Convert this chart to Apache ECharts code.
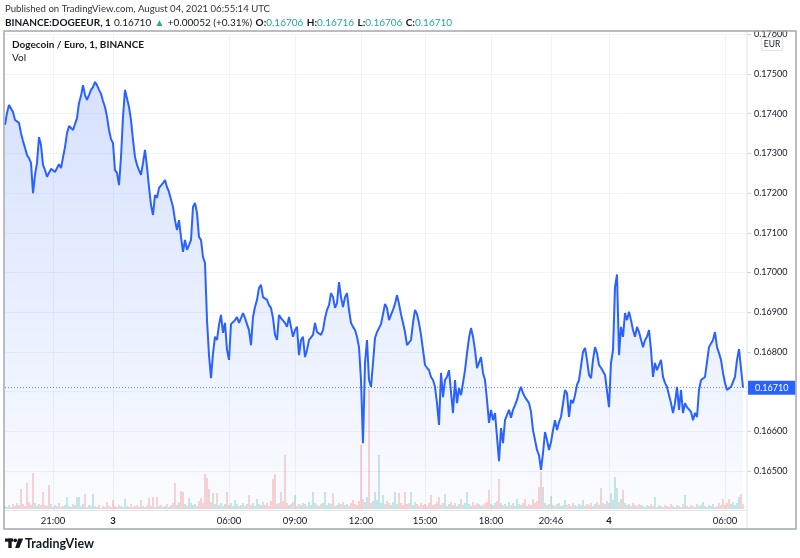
<!DOCTYPE html>
<html><head><meta charset="utf-8">
<script src="https://cdn.jsdelivr.net/npm/echarts@6/dist/echarts.min.js"></script>
<style>html,body{margin:0;padding:0;background:#fff;}#c{width:800px;height:558px;}</style>
</head><body><div id="c"></div>
<script>
// DOGE/EUR 1-minute closes (sampled), Binance, Aug 2-4 2021
const prices = [
0.17372,0.17402,0.17422,0.17417,0.17404,0.17384,0.17387,0.17377,0.17351,0.17331,
0.17314,0.17296,0.17288,0.17276,0.17200,0.17246,0.17276,0.17341,0.17321,0.17271,
0.17258,0.17241,0.17238,0.17261,0.17266,0.17253,0.17258,0.17273,0.17263,0.17258,
0.17316,0.17351,0.17369,0.17372,0.17359,0.17374,0.17389,0.17427,0.17445,0.17472,
0.17447,0.17435,0.17447,0.17460,0.17467,0.17480,0.17472,0.17460,0.17450,0.17432,
0.17417,0.17392,0.17359,0.17336,0.17326,0.17258,0.17251,0.17220,0.17291,0.17392,
0.17460,0.17465,0.17417,0.17384,0.17334,0.17291,0.17271,0.17258,0.17246,0.17276,
0.17309,0.17266,0.17215,0.17170,0.17145,0.17195,0.17188,0.17213,0.17210,0.17225,
0.17233,0.17215,0.17203,0.17203,0.17165,0.17132,0.17107,0.17132,0.17089,0.17052,
0.17082,0.17057,0.17069,0.17082,0.17165,0.17175,0.17150,0.17089,0.17082,0.17039,
0.17024,0.16880,0.16792,0.16734,0.16797,0.16838,0.16830,0.16868,0.16893,0.16848,
0.16873,0.16805,0.16780,0.16870,0.16873,0.16880,0.16888,0.16873,0.16885,0.16898,
0.16885,0.16888,0.16855,0.16817,0.16888,0.16913,0.16931,0.16961,0.16969,0.16938,
0.16933,0.16931,0.16918,0.16911,0.16885,0.16843,0.16830,0.16893,0.16885,0.16880,
0.16873,0.16863,0.16888,0.16863,0.16838,0.16855,0.16863,0.16792,0.16830,0.16838,
0.16787,0.16805,0.16830,0.16835,0.16843,0.16873,0.16850,0.16855,0.16843,0.16855,
0.16885,0.16906,0.16918,0.16948,0.16938,0.16911,0.16923,0.16976,0.16938,0.16913,
0.16938,0.16948,0.16906,0.16873,0.16863,0.16855,0.16838,0.16812,0.16729,0.16570,
0.16772,0.16830,0.16729,0.16712,0.16772,0.16835,0.16850,0.16860,0.16870,0.16895,
0.16921,0.16911,0.16880,0.16893,0.16906,0.16921,0.16943,0.16921,0.16895,0.16873,
0.16850,0.16817,0.16812,0.16830,0.16873,0.16906,0.16895,0.16873,0.16843,0.16805,
0.16767,0.16760,0.16754,0.16737,0.16729,0.16712,0.16671,0.16616,0.16747,0.16686,
0.16729,0.16737,0.16754,0.16699,0.16646,0.16729,0.16671,0.16709,0.16691,0.16722,
0.16754,0.16797,0.16835,0.16860,0.16838,0.16805,0.16759,0.16762,0.16787,0.16747,
0.16729,0.16679,0.16621,0.16654,0.16628,0.16646,0.16586,0.16525,0.16608,0.16570,
0.16628,0.16628,0.16654,0.16634,0.16654,0.16666,0.16679,0.16699,0.16712,0.16696,
0.16686,0.16686,0.16671,0.16649,0.16603,0.16578,0.16553,0.16540,0.16503,0.16545,
0.16598,0.16578,0.16553,0.16573,0.16603,0.16628,0.16603,0.16623,0.16636,0.16636,
0.16704,0.16696,0.16636,0.16679,0.16671,0.16691,0.16717,0.16729,0.16729,0.16800,
0.16810,0.16780,0.16742,0.16734,0.16780,0.16812,0.16797,0.16767,0.16760,0.16765,
0.16742,0.16747,0.16661,0.16772,0.16805,0.16963,0.16995,0.16792,0.16863,0.16838,
0.16898,0.16880,0.16901,0.16880,0.16855,0.16838,0.16863,0.16850,0.16855,0.16812,
0.16830,0.16838,0.16855,0.16805,0.16737,0.16772,0.16754,0.16767,0.16780,0.16737,
0.16722,0.16712,0.16691,0.16671,0.16646,0.16671,0.16712,0.16654,0.16704,0.16646,
0.16671,0.16661,0.16666,0.16649,0.16628,0.16646,0.16636,0.16704,0.16729,0.16734,
0.16737,0.16737,0.16812,0.16812,0.16830,0.16850,0.16812,0.16797,0.16780,0.16747,
0.16722,0.16704,0.16699,0.16712,0.16712,0.16737,0.16780,0.16807,0.16805,0.16710
];
// Volume per sampled bar (thousand DOGE)
const volumes = [
3,2,4,2,5,3,6,4,20,5,
3,26,7,4,36,6,3,5,4,17,
4,3,24,5,2,4,3,6,2,3,
4,12,3,2,5,4,12,12,3,5,
15,2,4,3,15,3,2,4,1,3,
2,7,3,2,9,3,2,4,3,2,
10,3,2,5,2,3,4,2,9,3,
2,4,11,3,12,2,12,3,4,2,
3,5,2,4,6,26,4,7,18,17,
5,3,11,6,4,5,3,8,11,6,
35,31,20,7,16,5,16,4,6,3,
5,17,4,6,3,9,5,3,4,6,
3,5,14,4,6,3,10,5,4,7,
4,6,3,8,30,35,5,6,17,8,
54,6,4,5,7,14,3,5,4,6,
5,3,7,4,17,6,4,3,5,6,
17,4,6,5,16,3,4,6,5,7,
4,5,3,6,9,5,4,8,64,10,
7,12,120,6,8,17,9,54,6,14,
5,8,6,4,7,17,5,16,6,4,
17,5,6,17,4,7,5,3,6,4,
5,3,6,14,4,5,7,12,4,6,
15,3,5,7,4,6,3,5,10,4,
6,17,5,3,7,4,6,5,3,4,
6,7,19,5,4,6,8,30,6,4,
5,3,7,4,6,3,10,5,4,6,
10,3,5,4,10,6,8,22,37,22,
6,4,5,13,4,3,5,6,3,4,
9,4,5,3,6,4,3,5,4,9,
3,5,4,6,3,5,7,4,21,6,
5,8,6,16,9,32,21,7,10,19,
6,4,5,3,6,4,3,5,4,3,
2,4,3,5,3,12,2,4,3,2,
4,3,2,5,3,2,4,3,2,5,
14,3,2,4,3,2,5,3,4,7,
3,2,4,3,5,2,3,6,4,10,
4,6,10,5,7,4,6,12,15,5
];
// Time-axis tick labels and the bar index where each sits
const tickIndex  = [24, 54, 112, 145, 178, 210, 243, 273, 302, 360];
const tickLabels = ['21:00', '3', '06:00', '09:00', '12:00', '15:00', '18:00', '20:46', '4', '06:00'];
const dayLabels  = ['3', '4'];
const emptySlots = 2;

const F = 'Lato, "Open Sans", sans-serif';
const UP = 'rgba(38,166,154,0.5)', DOWN = 'rgba(239,83,80,0.5)';

const cats = Array.from({length: prices.length + emptySlots}, (_, i) => String(i));
const volData = volumes.map((v, i) => ({
  value: v,
  itemStyle: {color: (i === 0 || prices[i] >= prices[i - 1]) ? UP : DOWN}
}));
const isTick = (idx) => tickIndex.indexOf(idx) >= 0;
const last = prices[prices.length - 1];

const chart = echarts.init(document.getElementById('c'), null, {renderer: 'canvas'});
chart.setOption({
  animation: false,
  backgroundColor: '#ffffff',
  grid: [
    {left: 5, right: 53, top: 34.3, height: 476.4},
    {left: 5, right: 53, top: 34, bottom: 49}
  ],
  xAxis: [
    {
      type: 'category', gridIndex: 0, data: cats, boundaryGap: false,
      axisLine: {show: true, lineStyle: {color: '#e6e8ee'}},
      axisTick: {show: false},
      axisLabel: {
        interval: (idx) => isTick(idx),
        formatter: (val, idx) => {
          const k = tickIndex.indexOf(Number(val));
          if (k < 0) return '';
          const t = tickLabels[k];
          return dayLabels.indexOf(t) >= 0 ? '{b|' + t + '}' : t;
        },
        color: '#131722', fontSize: 9.5, fontFamily: F, margin: 5,
        rich: {b: {fontWeight: 'bold', fontSize: 9.5, fontFamily: F, color: '#131722'}}
      },
      splitLine: {show: true, interval: (idx) => isTick(idx), lineStyle: {color: '#f0f3fa', width: 1}}
    },
    {
      type: 'category', gridIndex: 1, data: cats, boundaryGap: false, show: false
    }
  ],
  yAxis: [
    {
      type: 'value', gridIndex: 0, position: 'right', min: 0.164, max: 0.176, interval: 0.001,
      axisLine: {show: false},
      axisTick: {show: true, length: 4, lineStyle: {color: '#d1d4dc'}},
      axisLabel: {
        // the last-price tag covers the tick label it overlaps
        formatter: (v) => Math.abs(v - last) < 0.0003 ? '' : v.toFixed(5),
        showMinLabel: false,
        color: '#131722', fontSize: 9, fontFamily: F, margin: 7
      },
      splitLine: {lineStyle: {color: '#f0f3fa', width: 1}}
    },
    {
      type: 'value', gridIndex: 1, min: 0, max: 475, show: false, splitLine: {show: false}
    }
  ],
  series: [
    {
      type: 'bar', xAxisIndex: 1, yAxisIndex: 1, data: volData, barWidth: 1, z: 1
    },
    {
      type: 'line', xAxisIndex: 0, yAxisIndex: 0, data: prices, showSymbol: false, z: 3,
      lineStyle: {color: '#2962ff', width: 2},
      itemStyle: {color: '#2962ff'},
      areaStyle: {
        origin: 'start',
        color: new echarts.graphic.LinearGradient(0, 0, 0, 1, [
          {offset: 0, color: 'rgba(41,98,255,0.27)'},
          {offset: 1, color: 'rgba(41,98,255,0.03)'}
        ])
      },
      markLine: {
        silent: true, symbol: ['none', 'none'], precision: 5,
        data: [{yAxis: last}],
        lineStyle: {color: 'rgba(41,98,255,0.7)', type: [1, 2], width: 1},
        label: {
          position: 'end', distance: 1,
          formatter: (p) => Number(p.value).toFixed(5),
          backgroundColor: '#2962ff', color: '#ffffff', padding: [3, 7, 2, 7],
          fontSize: 9, fontFamily: F, opacity: 1
        }
      }
    }
  ],
  graphic: [
    {type: 'rect', z: 99, shape: {x: 748, y: 18, width: 48, height: 12.5}, style: {fill: '#ffffff'}},
    {type: 'line', z: 100, shape: {x1: 747, y1: 31, x2: 747, y2: 529}, style: {stroke: '#e0e3eb', lineWidth: 1}},
    {type: 'rect', z: 100, shape: {x: 4, y: 31, width: 792, height: 498}, style: {fill: 'none', stroke: '#a3a6ae', lineWidth: 1.5}},
    {type: 'text', z: 100, x: 5, y: 9, style: {
      text: 'Published on TradingView.com, August 04, 2021 06:55:14 UTC',
      font: '9.6px ' + F, fill: '#333333', verticalAlign: 'middle'}},
    {type: 'text', z: 100, x: 5, y: 23, style: {
      text: '{b|BINANCE:DOGEEUR, 1} {n|0.16710} {g|\u25B2} {n|+0.00052 (+0.31%)} {b|O:}{g|0.16706} {b|H:}{g|0.16716} {b|L:}{g|0.16706} {b|C:}{g|0.16710}',
      verticalAlign: 'middle',
      rich: {
        b: {fontSize: 10, fontWeight: 'bold', fontFamily: F, fill: '#131722'},
        n: {fontSize: 10, fontFamily: F, fill: '#131722'},
        g: {fontSize: 10, fontFamily: F, fill: '#26a69a'}
      }}},
    {type: 'text', z: 100, x: 12, y: 45, style: {
      text: 'Dogecoin / Euro, 1, BINANCE', font: 'bold 10px ' + F, fill: '#131722', verticalAlign: 'middle'}},
    {type: 'text', z: 100, x: 12, y: 57.5, style: {
      text: 'Vol', font: '10px ' + F, fill: '#131722', verticalAlign: 'middle'}},
    {type: 'text', z: 101, x: 772, y: 44, style: {
      text: 'EUR', font: '8.5px ' + F, fill: '#131722', align: 'center', verticalAlign: 'middle',
      backgroundColor: '#ffffff', borderColor: '#e0e3eb', borderWidth: 1, borderRadius: 2, padding: [2, 2, 1, 2]}},
    {type: 'rect', z: 100, shape: {x: 5, y: 538.5, width: 8, height: 3.2}, style: {fill: '#131722'}},
    {type: 'rect', z: 100, shape: {x: 8.3, y: 538.5, width: 3.4, height: 9.5}, style: {fill: '#131722'}},
    {type: 'circle', z: 100, shape: {cx: 15.2, cy: 540.3, r: 1.9}, style: {fill: '#131722'}},
    {type: 'polygon', z: 100, shape: {points: [[18.2, 538.5], [23.2, 538.5], [19.2, 548], [15.2, 548]]}, style: {fill: '#131722'}},
    {type: 'text', z: 100, x: 25, y: 543.5, style: {
      text: 'TradingView', font: 'bold 12.5px ' + F, fill: '#131722', verticalAlign: 'middle'}}
  ]
});
</script></body></html>
